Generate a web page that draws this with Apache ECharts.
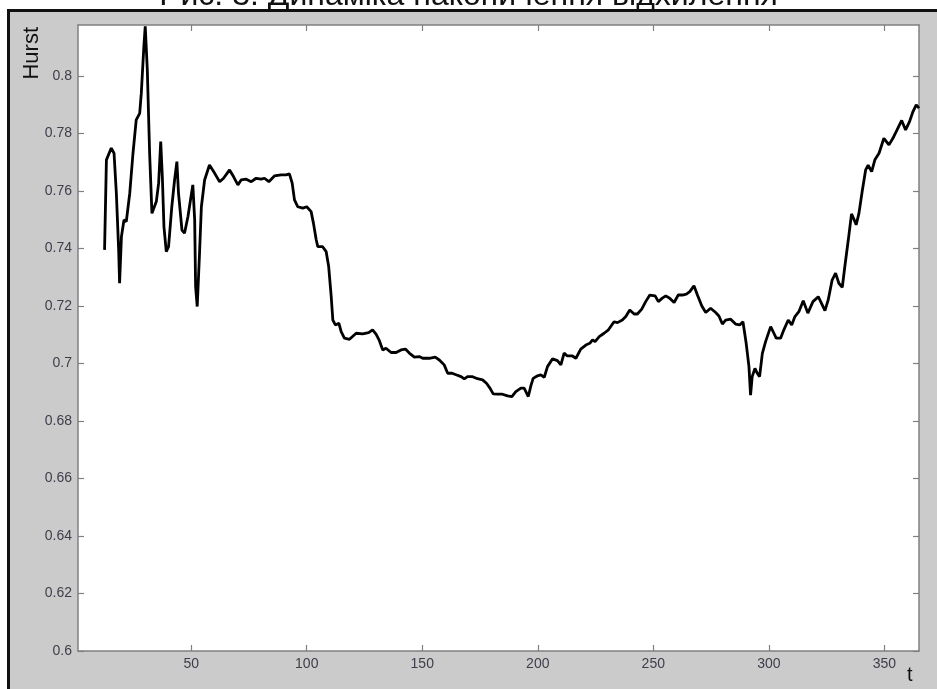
<!DOCTYPE html>
<html>
<head>
<meta charset="utf-8">
<script src="https://cdn.jsdelivr.net/npm/echarts@6/dist/echarts.min.js"></script>
<style>
  html, body {margin: 0; padding: 0; background: #fff; overflow: hidden;}
  #frame {position: absolute; left: 7px; top: 9px; width: 960px; height: 700px; background: #cbcbcb; border-top: 3px solid #111; border-left: 3px solid #111;}
  #chart {position: absolute; left: 0; top: 0; width: 937px; height: 689px;}
</style>
</head>
<body>
<div id="frame"></div>
<div id="chart"></div>
<script>
// t (day) and Hurst exponent
const tDays = [
  12.5, 13.3, 15.4, 16.6, 17.6, 18.6, 19.0, 19.8, 20.9, 21.9, 23.4, 24.8, 26.2, 27.7, 28.4, 29.5, 30.1, 31.0,
  32.0, 33.0, 34.9, 35.9, 36.8, 37.5, 38.2, 39.2, 40.2, 41.6, 42.8, 43.8, 44.5, 46.0, 47.1, 48.6, 49.7, 50.7,
  51.5, 51.9, 52.6, 53.6, 54.4, 55.8, 57.9, 60.1, 62.3, 64.0, 66.6, 68.3, 70.2, 71.6, 73.8, 76.0, 78.1, 80.3,
  81.7, 83.6, 86.0, 88.9, 91.1, 92.5, 93.7, 94.7, 96.1, 98.3, 100.0, 101.9, 102.9, 104.1, 104.8, 106.9, 108.4,
  109.5, 110.6, 111.3, 112.4, 113.9, 114.9, 116.3, 118.5, 121.4, 124.2, 126.8, 128.5, 130.0, 131.4, 132.9,
  134.3, 136.5, 138.7, 140.8, 142.7, 144.4, 146.6, 148.7, 150.2, 153.1, 155.6, 157.4, 159.5, 161.0, 162.9,
  164.9, 166.8, 168.2, 169.6, 171.8, 173.9, 176.1, 177.8, 179.3, 180.7, 182.6, 184.7, 186.9, 188.8, 190.5,
  192.7, 194.1, 195.9, 197.0, 198.0, 199.9, 201.3, 202.8, 204.2, 206.4, 208.5, 210.0, 211.4, 212.8, 215.0,
  216.5, 218.6, 220.8, 222.5, 223.7, 224.8, 226.6, 228.7, 230.6, 233.0, 234.5, 236.6, 238.1, 239.8, 241.7,
  243.1, 245.0, 246.7, 248.5, 250.8, 252.2, 253.9, 255.4, 257.1, 259.0, 260.8, 262.6, 264.3, 265.8, 267.6,
  269.1, 271.0, 272.7, 274.8, 277.0, 278.4, 279.9, 281.3, 283.5, 285.6, 287.4, 288.8, 290.2, 291.4, 292.1,
  292.8, 294.0, 295.0, 296.0, 297.2, 298.6, 300.8, 302.2, 303.2, 305.1, 306.5, 308.4, 309.9, 311.3, 313.0,
  314.9, 316.9, 319.1, 321.4, 322.8, 324.3, 325.7, 327.4, 328.9, 330.3, 331.8, 332.9, 334.4, 335.8, 336.8,
  337.8, 339.0, 340.4, 341.9, 343.0, 344.5, 345.9, 347.7, 349.8, 352.0, 353.7, 355.5, 357.5, 359.2, 360.9,
  362.4, 363.8, 365.0
];
const hurst = [
  0.7395, 0.7708, 0.7749, 0.7731, 0.7592, 0.7395, 0.7279, 0.7441, 0.7499, 0.7493, 0.7592, 0.7731, 0.7847, 0.7870, 0.7940, 0.8102, 0.8172, 0.8021,
  0.7731, 0.7522, 0.7563, 0.7627, 0.7772, 0.7650, 0.7476, 0.7389, 0.7406, 0.7545, 0.7638, 0.7702, 0.7592, 0.7464, 0.7453, 0.7511, 0.7569, 0.7621,
  0.7499, 0.7267, 0.7198, 0.7383, 0.7545, 0.7638, 0.7690, 0.7662, 0.7632, 0.7644, 0.7673, 0.7650, 0.7621, 0.7638, 0.7641, 0.7632, 0.7644, 0.7641,
  0.7644, 0.7632, 0.7652, 0.7656, 0.7656, 0.7659, 0.7627, 0.7569, 0.7545, 0.7540, 0.7545, 0.7528, 0.7488, 0.7430, 0.7406, 0.7406, 0.7389,
  0.7337, 0.7232, 0.7151, 0.7134, 0.7140, 0.7111, 0.7088, 0.7084, 0.7105, 0.7103, 0.7107, 0.7117, 0.7102, 0.7080, 0.7047,
  0.7053, 0.7038, 0.7038, 0.7047, 0.7050, 0.7036, 0.7022, 0.7024, 0.7018, 0.7018, 0.7022, 0.7012, 0.6995, 0.6966, 0.6966,
  0.6960, 0.6954, 0.6946, 0.6954, 0.6954, 0.6947, 0.6943, 0.6931, 0.6914, 0.6894, 0.6893, 0.6893, 0.6887, 0.6885, 0.6902,
  0.6914, 0.6914, 0.6885, 0.6922, 0.6948, 0.6957, 0.6960, 0.6952, 0.6989, 0.7016, 0.7010, 0.6995, 0.7036, 0.7026, 0.7026,
  0.7018, 0.7050, 0.7064, 0.7070, 0.7082, 0.7076, 0.7093, 0.7105, 0.7117, 0.7145, 0.7142, 0.7151, 0.7163, 0.7186, 0.7172,
  0.7172, 0.7189, 0.7215, 0.7238, 0.7235, 0.7215, 0.7227, 0.7235, 0.7227, 0.7212, 0.7238, 0.7238, 0.7241, 0.7250, 0.7270,
  0.7238, 0.7200, 0.7177, 0.7192, 0.7177, 0.7165, 0.7137, 0.7151, 0.7154, 0.7137, 0.7134, 0.7145, 0.7070, 0.6989, 0.6890,
  0.6954, 0.6983, 0.6966, 0.6954, 0.7035, 0.7076, 0.7128, 0.7105, 0.7088, 0.7088, 0.7117, 0.7151, 0.7134, 0.7163, 0.7180,
  0.7218, 0.7175, 0.7215, 0.7232, 0.7209, 0.7184, 0.7221, 0.7290, 0.7314, 0.7279, 0.7265, 0.7337, 0.7430, 0.7520, 0.7502,
  0.7482, 0.7522, 0.7598, 0.7673, 0.7690, 0.7667, 0.7708, 0.7731, 0.7783, 0.7760, 0.7783, 0.7812, 0.7845, 0.7812, 0.7841,
  0.7876, 0.7899, 0.7888
];
const xTicks = [50, 100, 150, 200, 250, 300, 350];
const yTicks = [0.6, 0.62, 0.64, 0.66, 0.68, 0.7, 0.72, 0.74, 0.76, 0.78, 0.8];

const font = '"Liberation Sans", Arial, sans-serif';
const axisColor = '#808080';
const labelColor = '#3e3e4a';

const xBase = {
  type: 'value',
  min: 1,
  max: 365,
  axisLine: {show: true, onZero: false, lineStyle: {color: axisColor, width: 1.5}},
  axisTick: {show: true, inside: true, length: 6, customValues: xTicks, lineStyle: {color: axisColor, width: 1.2}},
  splitLine: {show: false}
};
const yBase = {
  type: 'value',
  min: 0.6,
  max: 0.8177,
  axisLine: {show: true, onZero: false, lineStyle: {color: axisColor, width: 1.5}},
  axisTick: {show: true, inside: true, length: 6, customValues: yTicks, lineStyle: {color: axisColor, width: 1.2}},
  splitLine: {show: false}
};

const chart = echarts.init(document.getElementById('chart'));
chart.setOption({
  animation: false,
  backgroundColor: 'transparent',
  title: {
    text: 'Рис. 3. Динаміка накопичення відхилення',
    left: 'center',
    top: -20,
    padding: 0,
    textStyle: {fontFamily: font, fontSize: 32, fontWeight: 'normal', color: '#111'}
  },
  grid: {
    left: 78, top: 25, right: 18, bottom: 38,
    outerBoundsMode: 'none',
    show: true, backgroundColor: '#fff', borderWidth: 0
  },
  graphic: [
    {type: 'text', left: 21, top: 27, rotation: Math.PI / 2,
      style: {text: 'Hurst', fill: '#111', font: '22px ' + font}},
    {type: 'text', left: 907, top: 665,
      style: {text: 't', fill: '#111', font: '20px ' + font}}
  ],
  xAxis: [
    {...xBase, position: 'bottom',
      axisLabel: {show: true, customValues: xTicks, margin: 6, color: labelColor, fontFamily: font, fontSize: 14}},
    {...xBase, position: 'top', axisLabel: {show: false}}
  ],
  yAxis: [
    {...yBase, position: 'left',
      axisLabel: {show: true, customValues: yTicks, margin: 6, color: labelColor, fontFamily: font, fontSize: 14}},
    {...yBase, position: 'right', axisLabel: {show: false}}
  ],
  series: [{
    type: 'line',
    data: tDays.map((t, i) => [t, hurst[i]]),
    showSymbol: false,
    clip: true,
    lineStyle: {color: '#000', width: 2.8},
    itemStyle: {color: '#000'}
  }]
});
</script>
</body>
</html>
